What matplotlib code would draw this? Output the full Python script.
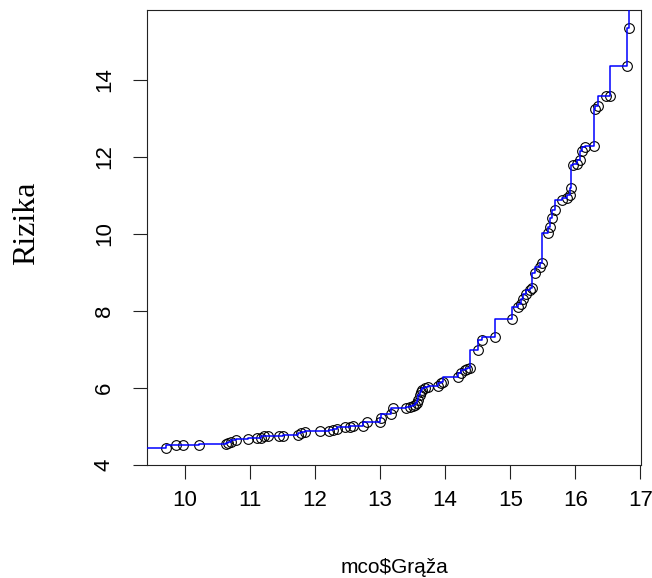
import numpy as np
import matplotlib
matplotlib.use("Agg")
import matplotlib.pyplot as plt

# grąža values and the estimated risk at each of them
graza = [9.70, 9.86, 9.97, 10.22, 10.63, 10.66, 10.70, 10.79, 10.97, 11.10,
         11.17, 11.22, 11.27, 11.44, 11.51, 11.74, 11.79, 11.85, 12.07, 12.22,
         12.28, 12.33, 12.46, 12.53, 12.58, 12.74, 12.80, 12.99, 13.02, 13.17,
         13.20, 13.40, 13.46, 13.50, 13.53, 13.56, 13.58, 13.61, 13.63, 13.65,
         13.69, 13.74, 13.89, 13.94, 13.97, 14.20, 14.25, 14.30, 14.33, 14.38,
         14.51, 14.57, 14.77, 15.02, 15.12, 15.16, 15.20, 15.25, 15.30, 15.33,
         15.38, 15.46, 15.49, 15.58, 15.61, 15.65, 15.69, 15.79, 15.87, 15.92,
         15.94, 15.96, 16.02, 16.07, 16.10, 16.15, 16.29, 16.31, 16.35, 16.48,
         16.54, 16.80, 16.83]
rizika = [4.45, 4.51, 4.51, 4.51, 4.55, 4.58, 4.61, 4.65, 4.68, 4.69,
          4.71, 4.75, 4.76, 4.76, 4.76, 4.79, 4.82, 4.86, 4.87, 4.88,
          4.91, 4.93, 4.98, 4.99, 5.01, 5.01, 5.12, 5.12, 5.21, 5.32,
          5.49, 5.49, 5.50, 5.52, 5.57, 5.62, 5.68, 5.82, 5.90, 5.95,
          6.00, 6.03, 6.05, 6.12, 6.16, 6.28, 6.40, 6.46, 6.49, 6.51,
          6.99, 7.25, 7.33, 7.78, 8.11, 8.18, 8.30, 8.45, 8.55, 8.60,
          8.98, 9.15, 9.24, 10.02, 10.19, 10.41, 10.62, 10.88, 10.93, 11.01,
          11.19, 11.79, 11.81, 11.92, 12.16, 12.25, 12.29, 13.24, 13.31, 13.57,
          13.58, 14.37, 15.34]

# step curve values beyond the observed range
rizika_start = 4.44
rizika_end = 16.4

xticks = [10, 11, 12, 13, 14, 15, 16, 17]
yticks = [4, 6, 8, 10, 12, 14]
xlim = (9.41, 17.01)
ylim = (4.0, 15.82)

fig = plt.figure(figsize=(6.52, 5.78), dpi=100)
ax = fig.add_axes([0.225, 0.1955, 0.758, 0.7875])

ax.plot(graza, rizika, linestyle="none", marker="o", markersize=7,
        markerfacecolor="none", markeredgecolor="black", markeredgewidth=0.8,
        zorder=2)

# step line, vertical jump first (like type="S" in R)
sx = np.concatenate([[xlim[0]], graza, [graza[-1] + 0.2]])
sy = np.concatenate([[rizika_start], rizika, [rizika_end]])
ax.plot(sx, sy, drawstyle="steps-pre", color="#0000ff", linewidth=1.1,
        zorder=3)

ax.set_xlim(*xlim)
ax.set_ylim(*ylim)
ax.set_xticks(xticks)
ax.set_yticks(yticks)

for s in ax.spines.values():
    s.set_linewidth(0.8)
    s.set_color("#222222")

ax.tick_params(axis="both", direction="out", length=10, width=0.8,
               color="#222222", labelsize=16)
ax.tick_params(axis="x", pad=8)
ax.tick_params(axis="y", pad=13)
for lab in ax.get_xticklabels() + ax.get_yticklabels():
    lab.set_fontfamily("Liberation Sans")
for lab in ax.get_yticklabels():
    lab.set_rotation(90)
    lab.set_va("center")

ax.set_xlabel(r"mco\$Grąža", fontsize=15, fontfamily="Liberation Sans")
ax.xaxis.set_label_coords(0.502, -0.226)
ax.xaxis.label.set_va("center")
ax.set_ylabel("Rizika", fontsize=23, fontfamily="Liberation Serif")
ax.yaxis.set_label_coords(-0.244, 0.532)
ax.yaxis.label.set_va("center")

fig.savefig("out.png", dpi=100)
